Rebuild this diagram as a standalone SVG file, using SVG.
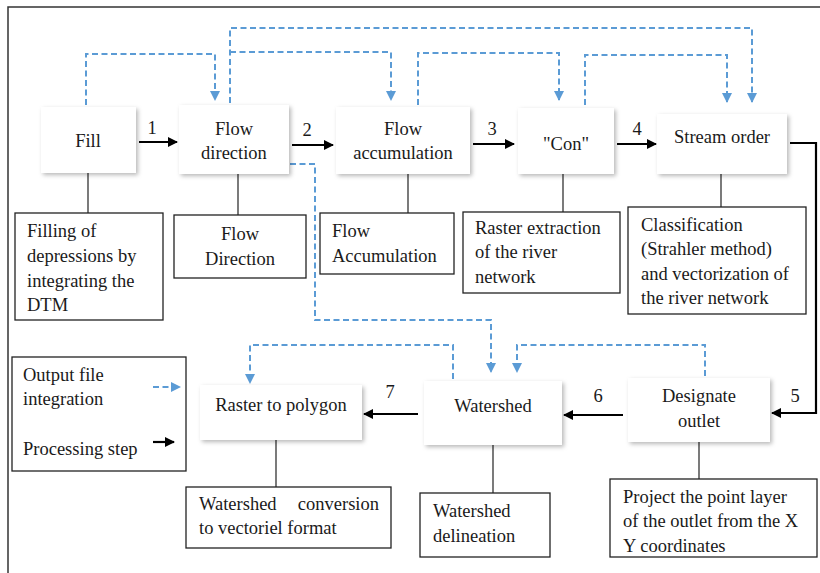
<svg xmlns="http://www.w3.org/2000/svg" width="820" height="573" viewBox="0 0 820 573">
<defs>
<filter id="sh" x="-10%" y="-10%" width="130%" height="140%">
<feDropShadow dx="2" dy="2" stdDeviation="2" flood-color="#000" flood-opacity="0.28"/>
</filter>
<marker id="ab" viewBox="0 0 10 10" refX="9" refY="5" markerWidth="10" markerHeight="10" markerUnits="userSpaceOnUse" orient="auto">
<path d="M0,0 L10,5 L0,10 z" fill="#000"/>
</marker>
<marker id="au" viewBox="0 0 10 10" refX="9" refY="5" markerWidth="10" markerHeight="10" markerUnits="userSpaceOnUse" orient="auto">
<path d="M0,0 L10,5 L0,10 z" fill="#5b9bd5"/>
</marker>
</defs>
<style>
text{font-family:'Liberation Serif','Times New Roman',serif;font-size:18.5px;fill:#1a1a1a}
.c{text-anchor:middle}
.p{fill:#fff;filter:url(#sh)}
.d{fill:#fff;stroke:#222;stroke-width:1.3}
.k{fill:none;stroke:#000;stroke-width:2.2}
.t{fill:none;stroke:#222;stroke-width:1.2}
.b{fill:none;stroke:#5b9bd5;stroke-width:2;stroke-dasharray:6 3.5}
</style>
<rect x="0" y="0" width="820" height="573" fill="#fff"/>
<rect x="8" y="7" width="830" height="580" fill="none" stroke="#333" stroke-width="1.5"/>

<g id="connectors">
<path class="k" d="M139,142 H177" marker-end="url(#ab)"/>
<path class="k" d="M292,145 H333" marker-end="url(#ab)"/>
<path class="k" d="M473,144 H514" marker-end="url(#ab)"/>
<path class="k" d="M617,144 H656" marker-end="url(#ab)"/>
<path class="k" d="M790,143 H816 V413 H772" marker-end="url(#ab)"/>
<path class="k" d="M623,415 H564" marker-end="url(#ab)"/>
<path class="k" d="M418,414 H364" marker-end="url(#ab)"/>
<path class="t" d="M88,173 V213"/>
<path class="t" d="M238,174 V215"/>
<path class="t" d="M408,174 V213"/>
<path class="t" d="M563,174 V212"/>
<path class="t" d="M721,174 V207"/>
<path class="t" d="M276,440 V487"/>
<path class="t" d="M493,445 V493"/>
<path class="t" d="M699,442 V479"/>
<path class="b" d="M86,105 V54 H215 V100" marker-end="url(#au)"/>
<path class="b" d="M230,103 V28 H752 V102" marker-end="url(#au)"/>
<path class="b" d="M230,52 H391 V100" marker-end="url(#au)"/>
<path class="b" d="M418,105 V53 H559 V100" marker-end="url(#au)"/>
<path class="b" d="M585,105 V55 H727 V102" marker-end="url(#au)"/>
<path class="b" d="M290,164 H315 V320 H491 V372" marker-end="url(#au)"/>
<path class="b" d="M453,379 V345 H250 V383" marker-end="url(#au)"/>
<path class="b" d="M705,376 V345 H517 V372" marker-end="url(#au)"/>
</g>
<g id="labels">
<text x="152" y="134" class="c">1</text>
<text x="307" y="136" class="c">2</text>
<text x="492" y="135" class="c">3</text>
<text x="637" y="135" class="c">4</text>
<text x="795" y="402" class="c">5</text>
<text x="598" y="402" class="c">6</text>
<text x="390" y="398" class="c">7</text>
</g>

<g id="fill"><rect class="p" x="41" y="107" width="95" height="66"/><text x="88" y="147" class="c">Fill</text></g>
<g id="flow-direction"><rect class="p" x="179" y="105" width="110" height="69"/><text x="234" y="135" class="c">Flow</text><text x="234" y="159" class="c">direction</text></g>
<g id="flow-accumulation"><rect class="p" x="336" y="107" width="134" height="67"/><text x="403" y="135" class="c">Flow</text><text x="403" y="159" class="c">accumulation</text></g>
<g id="con"><rect class="p" x="518" y="108" width="96" height="66"/><text x="566" y="150" class="c">"Con"</text></g>
<g id="stream-order"><rect class="p" x="657" y="114" width="130" height="60"/><text x="722" y="143" class="c">Stream order</text></g>

<g id="fill-desc"><rect class="d" x="15" y="213" width="148" height="107"/><text x="27" y="237">Filling of</text><text x="27" y="262">depressions by</text><text x="27" y="287">integrating the</text><text x="27" y="311">DTM</text></g>
<g id="flow-direction-desc"><rect class="d" x="174" y="215" width="132" height="63"/><text x="240" y="240" class="c">Flow</text><text x="240" y="265" class="c">Direction</text></g>
<g id="flow-accumulation-desc"><rect class="d" x="320" y="213" width="134" height="61"/><text x="332" y="237">Flow</text><text x="332" y="262">Accumulation</text></g>
<g id="con-desc"><rect class="d" x="463" y="212" width="157" height="81"/><text x="475" y="234">Raster extraction</text><text x="475" y="258">of the river</text><text x="475" y="283">network</text></g>
<g id="stream-order-desc"><rect class="d" x="628" y="207" width="178" height="107"/><text x="641" y="231">Classification</text><text x="641" y="255">(Strahler method)</text><text x="641" y="280">and vectorization of</text><text x="641" y="304">the river network</text></g>

<g id="legend"><rect class="d" x="12" y="357" width="174" height="114"/><text x="23" y="381">Output file</text><text x="23" y="405">integration</text><text x="23" y="455">Processing step</text>
<path class="b" d="M153,387 H180" marker-end="url(#au)"/>
<path class="k" d="M153,442 H174" marker-end="url(#ab)"/></g>

<g id="raster-to-polygon"><rect class="p" x="200" y="385" width="162" height="55"/><text x="281" y="411" class="c">Raster to polygon</text></g>
<g id="watershed"><rect class="p" x="424" y="381" width="138" height="64"/><text x="493" y="412" class="c">Watershed</text></g>
<g id="designate-outlet"><rect class="p" x="628" y="378" width="142" height="64"/><text x="699" y="402" class="c">Designate</text><text x="699" y="427" class="c">outlet</text></g>

<g id="raster-desc"><rect class="d" x="186" y="487" width="205" height="61"/><text x="199" y="510">Watershed</text><text x="379" y="510" text-anchor="end">conversion</text><text x="199" y="534">to vectoriel format</text></g>
<g id="watershed-desc"><rect class="d" x="420" y="493" width="130" height="64"/><text x="433" y="517">Watershed</text><text x="433" y="542">delineation</text></g>
<g id="outlet-desc"><rect class="d" x="610" y="479" width="207" height="78"/><text x="623" y="503">Project the point layer</text><text x="623" y="527">of the outlet from the X</text><text x="623" y="552">Y coordinates</text></g>
</svg>
